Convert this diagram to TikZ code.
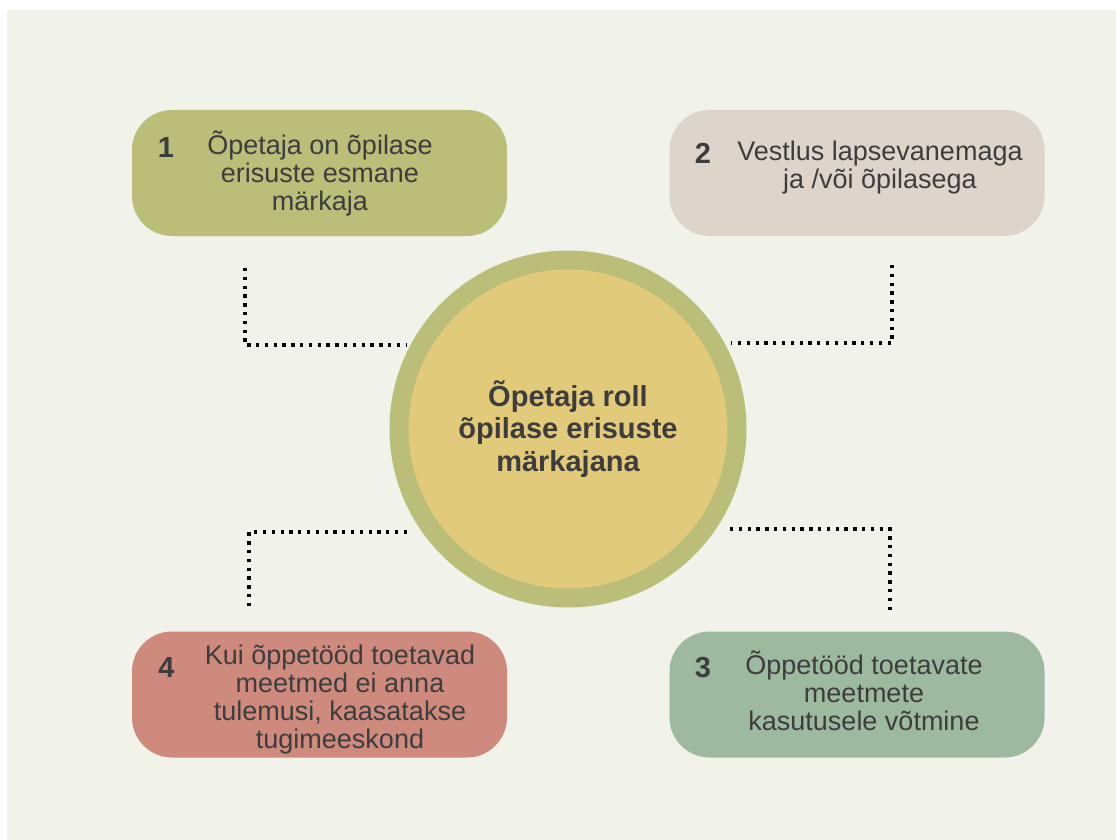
\documentclass[tikz,border=0pt]{standalone}
\usepackage{fontspec}
\setmainfont{Liberation Sans}
\usepackage{tikz}
\usetikzlibrary{positioning}
\definecolor{paper}{HTML}{F1F2EA}
\definecolor{olive}{HTML}{BABE78}
\definecolor{sand}{HTML}{DDD5CB}
\definecolor{rose}{HTML}{CE8A7D}
\definecolor{sage}{HTML}{9DBAA1}
\definecolor{mustard}{HTML}{E2CA7B}
\definecolor{ink}{HTML}{3D3D3D}

\begin{document}
\begin{tikzpicture}[x=1pt, y=-1pt,
    box/.style={rounded corners=40pt, minimum width=375pt, minimum height=126pt, inner sep=0pt, outer sep=0pt},
    label/.style={align=center, text=ink, inner sep=0pt, font=\fontsize{27}{28}\selectfont},
    num/.style={text=ink, inner sep=0pt, font=\fontsize{29}{30}\selectfont\bfseries},
    dots/.style={line width=3.3pt, dash pattern=on 3.3pt off 5.5pt}]

    % Fond
    \useasboundingbox (0,0) rectangle (1116,840);
    \fill[paper] (7,10) rectangle (1116,840);

    % Cercle central
    \node[circle, fill=olive, minimum size=357pt, inner sep=0pt, outer sep=0pt] (rim) at (568,429) {};
    \node[circle, fill=mustard, minimum size=319pt, inner sep=0pt, align=center, text=ink,
          font=\fontsize{29}{32.5}\selectfont\bfseries] (hub) at (rim.center)
          {Õpetaja roll\\õpilase erisuste\\märkajana};

    % Boites
    \node[box, fill=olive] (b1) at (319.5,173) {};
    \node[box, fill=sand]  (b2) at (857,173) {};
    \node[box, fill=sage]  (b3) at (857,694.5) {};
    \node[box, fill=rose]  (b4) at (319.5,694.5) {};

    % Numeros
    \node[num] (n1) at (166,148) {1};
    \node[num] (n2) at (703,153) {2};
    \node[num] (n3) at (703,668) {3};
    \node[num] (n4) at (166.5,668) {4};

    % Textes
    \node[label] (t1) at (320,173) {Õpetaja on õpilase\\erisuste esmane\\märkaja};
    \node[label] (t2) at (880,168) {Vestlus lapsevanemaga\\ja /või õpilasega};
    \node[label] (t3) at (864,690.5) {Õppetööd toetavate\\meetmete\\kasutusele võtmine};
    \node[label] (t4) at (340,699.5) {Kui õppetööd toetavad\\meetmed ei anna\\tulemusi, kaasatakse\\tugimeeskond};

    % Pointilles
    \coordinate (k1a) at (245,268);
    \coordinate (k1b) at (407,345);
    \coordinate (k2a) at (892,265);
    \coordinate (k2b) at (731,343);
    \coordinate (k3a) at (730,529);
    \coordinate (k3b) at (890,610);
    \coordinate (k4a) at (407,532);
    \coordinate (k4b) at (249,610);
    \draw[dots] (k1a) |- (k1b);
    \draw[dots] (k2a) |- (k2b);
    \draw[dots] (k3a) -| (k3b);
    \draw[dots] (k4a) -| (k4b);

\end{tikzpicture}
\end{document}
